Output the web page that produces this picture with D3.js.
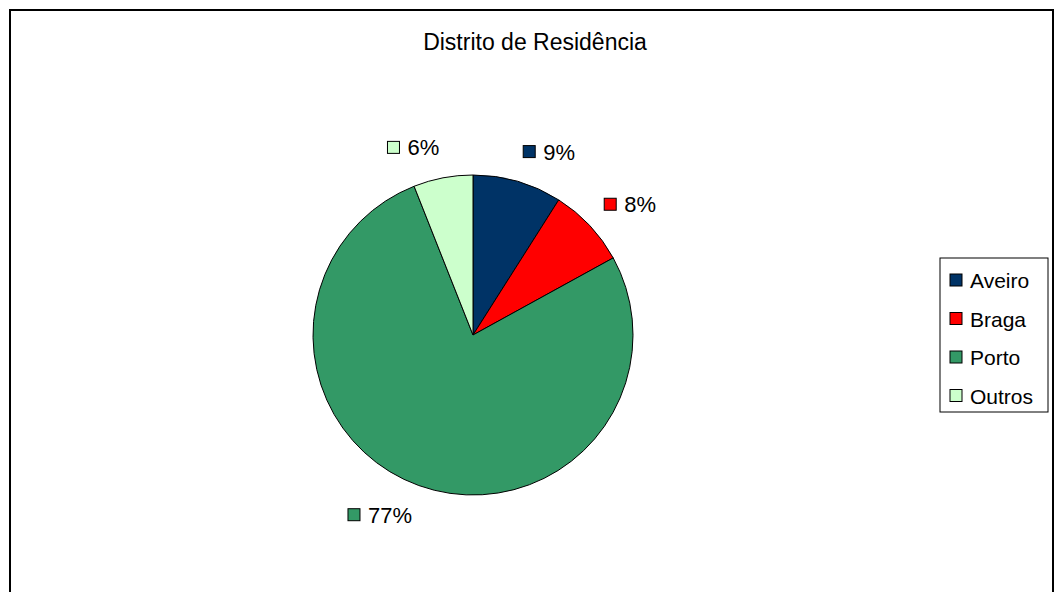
<!DOCTYPE html>
<html>
<head>
<meta charset="utf-8">
<script src="https://cdn.jsdelivr.net/npm/d3@7"></script>
<style>
  body { margin: 0; background: #fff; }
  text { font-family: "Liberation Sans", Arial, sans-serif; fill: #000; }
</style>
</head>
<body>
<div id="chart"></div>
<script>
// data
var categories = ["Aveiro", "Braga", "Porto", "Outros"];
var values = [9, 8, 77, 6];
var colors = ["#003366", "#ff0000", "#339966", "#ccffcc"];
var title = "Distrito de Residência";

var w = 1055, h = 592;
var cx = 473, cy = 335, radius = 160;

var svg = d3.select("#chart").append("svg")
  .attr("width", w)
  .attr("height", h);

// outer frame
svg.append("rect")
  .attr("x", 10).attr("y", 10)
  .attr("width", 1043).attr("height", 620)
  .attr("fill", "white")
  .attr("stroke", "black")
  .attr("stroke-width", 2);

svg.append("text")
  .attr("x", 535).attr("y", 50)
  .attr("text-anchor", "middle")
  .style("font-size", "23px")
  .text(title);

var dataset = categories.map(function(c, i) { return { name: c, value: values[i], color: colors[i] }; });

var pie = d3.pie().sort(null).value(function(d) { return d.value; });
var arcs = pie(dataset);
var arc = d3.arc().innerRadius(0).outerRadius(radius);

var g = svg.append("g").attr("transform", "translate(" + cx + "," + cy + ")");

g.selectAll("path.slice")
  .data(arcs)
  .enter()
  .append("path")
  .attr("class", "slice")
  .attr("d", arc)
  .attr("fill", function(d) { return d.data.color; })
  .attr("stroke", "black")
  .attr("stroke-width", 1);

// labels outside the pie: small colour square + percent
var total = d3.sum(values);
var labelR = 180;
var sq = 12, gap = 8, fs = 22;

arcs.forEach(function(d) {
  var mid = (d.startAngle + d.endAngle) / 2;
  var px = Math.sin(mid) * labelR, py = -Math.cos(mid) * labelR;
  var txt = Math.round(d.data.value / total * 100) + "%";
  var lg = g.append("g");
  lg.append("rect")
    .attr("width", sq).attr("height", sq)
    .attr("x", 0).attr("y", -sq / 2)
    .attr("fill", d.data.color)
    .attr("stroke", "black").attr("stroke-width", 1);
  var t = lg.append("text")
    .attr("x", sq + gap).attr("y", 8)
    .style("font-size", fs + "px")
    .text(txt);
  var bw = sq + gap + t.node().getComputedTextLength();
  var bh = 22;
  var gx = px + (Math.sin(mid) >= 0 ? 0 : -bw);
  var gy = py - Math.cos(mid) * bh / 2;
  lg.attr("transform", "translate(" + gx + "," + gy + ")");
});

// legend
var legend = svg.append("g").attr("transform", "translate(940,258)");
legend.append("rect")
  .attr("width", 108).attr("height", 154)
  .attr("fill", "white")
  .attr("stroke", "black")
  .attr("stroke-width", 1);

var items = legend.selectAll("g.item")
  .data(dataset)
  .enter()
  .append("g")
  .attr("class", "item")
  .attr("transform", function(d, i) { return "translate(10," + (22 + i * 38.5) + ")"; });

items.append("rect")
  .attr("x", 0).attr("y", -6)
  .attr("width", 12).attr("height", 12)
  .attr("fill", function(d) { return d.color; })
  .attr("stroke", "black").attr("stroke-width", 1);

items.append("text")
  .attr("x", 20).attr("y", 8)
  .style("font-size", "21px")
  .text(function(d) { return d.name; });
</script>
</body>
</html>
